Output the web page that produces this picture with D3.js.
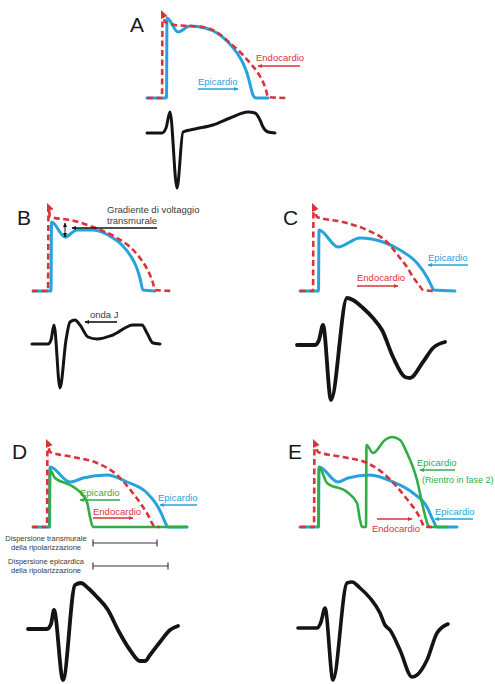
<!DOCTYPE html>
<html><head><meta charset="utf-8">
<script src="https://cdn.jsdelivr.net/npm/d3@7"></script>
<style>body{margin:0;background:#fff}svg{display:block}</style>
</head><body>
<svg id="c" width="495" height="684"></svg>
<script>
// ---- Data: action potentials [time, voltage] and ECG traces [time, amplitude] (relative units) ----
const apA_endo = [[0,0],[15,0],[15.5,84],[18,76],[28,73],[43,72],[56,71],[71,65],[83,55],[94,45],[103,35],[111,25],[116,16],[119,8],[121,1],[140,0]];
const apA_epi  = [[0,0],[19.5,0],[20,80],[31,66],[43,72],[58,70],[70,65],[81,56],[90,45],[96,35],[100,25],[103,14],[106,3],[109,0],[121,0]];
const ecgA     = [[0,0],[15,0],[19,5],[23,21],[30,-55],[36,1],[48,4],[66,8],[83,15],[101,21],[108,20],[113,13],[116,6],[121,1],[128,0]];

const apB_endo = [[0,0],[16,0],[16.5,84],[18,74],[38,71],[61,64],[85,53],[98,44],[108,33],[114,24],[118,16],[121,8],[123,1],[141,0]];
const apB_epi  = [[1,0],[19,0],[19.5,69],[33,54],[45,61],[61,61],[81,53],[90,46],[98,36],[104,25],[108,13],[111,1],[123,0]];
const ecgB     = [[0,0],[16,0],[19,4],[22,19],[28,-44],[34,4],[38,22],[43,24],[48,19],[56,7],[65,5],[81,9],[101,19],[110,19],[115,11],[121,1],[128,0]];

const apC_endo = [[0,0],[13,0],[13.5,84],[17,74],[43,69],[67,61],[87,49],[100,33],[107,24],[113,14],[119,6],[123,1],[135,0]];
const apC_epi  = [[0,0],[18.5,0],[19,61],[38,44],[60,53],[83,49],[100,41],[117,28],[127,14],[131,6],[134,1],[155,0]];
const ecgC     = [[0,0],[18,0],[22,5],[26,20],[34,-55],[50,47],[56,45],[66,37],[76,27],[85,15],[96,-12],[108,-32],[113,-33],[126,-17],[136,-3],[148,3]];

const apD_endo = [[0,0],[15,0],[15.5,84],[18,75],[41,70],[65,64],[85,52],[100,35],[111,20],[116,12],[120,4],[123,0],[128,0]];
const apD_epi  = [[1,0],[17.5,0],[18,60],[38,45],[51,49],[75,52],[95,45],[115,34],[126,20],[130,12],[133,5],[136,0],[155,0]];
const apD_epi2 = [[17.5,0],[18,57],[23,49],[38,42],[48,35],[55,25],[58,10],[61,0],[155,0]];
const ecgD     = [[0,0],[19,0],[23,5],[26,19],[35,-51],[47,44],[53,46],[60,41],[69,32],[80,19],[90,-1],[102,-21],[112,-32],[117,-32],[122,-26],[132,-13],[142,-1],[150,3]];

const apE_endo = [[0,0],[14,0],[14.5,84],[18,75],[43,70],[67,64],[83,54],[97,40],[110,24],[116,16],[120,9],[125,0],[132,0]];
const apE_epi  = [[0,0],[18.5,0],[19,60],[38,45],[48,49],[70,52],[93,45],[113,34],[127,20],[133,7],[137,0],[157,0]];
const apE_epi2 = [[18.5,0],[19,60],[27,44],[47,35],[57,24],[60,7],[62,0],[66,0],[66.5,82],[73,74],[85,87],[92,90],[100,87],[107,74],[117,47],[123,20],[128,2],[130,0],[147,0]];
const ecgE     = [[0,0],[19,0],[23,6],[27,20],[35,-52],[49,45],[54,46],[62,40],[72,30],[82,15],[87,3],[92,-2],[102,-22],[114,-49],[119,-47],[129,-32],[139,-5],[150,4]];

// Labels
const panelLetters = ["A","B","C","D","E"];
const txtEndo = "Endocardio", txtEpi = "Epicardio";
const txtGrad = ["Gradiente di voltaggio","transmurale"];
const txtJ = "onda J";
const txtDispT = ["Dispersione transmurale","della ripolarizzazione"];
const txtDispE = ["Dispersione epicardica","della ripolarizzazione"];
const txtReentry = "(Rientro in fase 2)";

// ---- Layout / style ----
const RED = "#d8343a", BLUE = "#27a3dc", GREEN = "#2fae47", BLACK = "#141414", GREY = "#3a3a3a";
const FONT = "Liberation Sans, Arial, sans-serif";

const layout = [
  {letter:[130,32], ap:[147,98], ecg:[147,133], ecgW:3,
   curves:[[apA_epi,BLUE,"s"],[apA_endo,RED,"d"]], ecgData:ecgA,
   ann:[{tx:txtEndo,t:109,v:37,c:RED},{ar:[153,32,111,32],c:RED},
        {tx:txtEpi,t:51,v:13,c:BLUE},{ar:[51,9,91,9],c:BLUE}]},
  {letter:[17,225], ap:[32,291], ecg:[32,344], ecgW:3,
   curves:[[apB_epi,BLUE,"s"],[apB_endo,RED,"d"]], ecgData:ecgB,
   ann:[{tx:txtGrad[0],t:75,v:78,c:GREY},{tx:txtGrad[1],t:75,v:67,c:GREY},
        {ar:[125,63,40,63],c:BLACK,w:1.6},{dbl:[33,68,33,54]}],
   ecgAnn:[{tx:txtJ,t:58,v:26,c:GREY},{ar:[85,22,53,22],c:BLACK,w:1.6}]},
  {letter:[283,225], ap:[300,291], ecg:[297,345], ecgW:3.8,
   curves:[[apC_epi,BLUE,"s"],[apC_endo,RED,"d"]], ecgData:ecgC,
   ann:[{tx:txtEpi,t:128,v:30,c:BLUE},{ar:[168,26,128,26],c:BLUE},
        {tx:txtEndo,t:57,v:10,c:RED},{ar:[57,5,98,5],c:RED}]},
  {letter:[12,459], ap:[32,527], ecg:[28,629], ecgW:3.8,
   curves:[[apD_epi,BLUE,"s"],[apD_epi2,GREEN,"s"],[apD_endo,RED,"d"]], ecgData:ecgD,
   ann:[{tx:txtEpi,t:48,v:31,c:GREEN},{ar:[88,27,48,27],c:GREEN},
        {tx:txtEndo,t:61,v:12,c:RED},{ar:[61,9,101,9],c:RED},
        {tx:txtEpi,t:126,v:26,c:BLUE},{ar:[165,22,128,22],c:BLUE},
        {tx:txtDispT[0],t:14,v:-14,c:GREY,s:7.5,mid:1},{tx:txtDispT[1],t:14,v:-23,c:GREY,s:7.5,mid:1},
        {tx:txtDispE[0],t:14,v:-37,c:GREY,s:7.5,mid:1},{tx:txtDispE[1],t:14,v:-46,c:GREY,s:7.5,mid:1},
        {bar:[61,125,-16]},{bar:[61,136,-39]}]},
  {letter:[288,459], ap:[300,527], ecg:[298,628], ecgW:3.6,
   curves:[[apE_epi,BLUE,"s"],[apE_epi2,GREEN,"s"],[apE_endo,RED,"d"]], ecgData:ecgE,
   ann:[{tx:txtEpi,t:117,v:61,c:GREEN},{ar:[155,57,120,57],c:GREEN},
        {tx:txtReentry,t:122,v:44,c:GREEN,s:9},
        {tx:txtEpi,t:135,v:12,c:BLUE},{ar:[173,8,135,8],c:BLUE},
        {tx:txtEndo,t:72,v:-5,c:RED},{ar:[77,8,112,8],c:RED}]}
];

const svg = d3.select("#c");
const defs = svg.append("defs");
function marker(id, color){
  defs.append("marker").attr("id",id).attr("viewBox","0 0 10 10").attr("refX",8).attr("refY",5)
    .attr("markerWidth",5).attr("markerHeight",5).attr("markerUnits","userSpaceOnUse").attr("orient","auto-start-reverse")
    .append("path").attr("d","M0,1 L9,5 L0,9 Z").attr("fill",color);
}
const colorIds = {};
[[RED,"mr"],[BLUE,"mb"],[GREEN,"mg"],[BLACK,"mk"],[GREY,"mgr"]].forEach(([c,id])=>{marker(id,c);colorIds[c]=id;});

layout.forEach((P,i)=>{
  const g = svg.append("g");
  const x = d3.scaleLinear().domain([0,100]).range([P.ap[0],P.ap[0]+100]);
  const y = d3.scaleLinear().domain([0,100]).range([P.ap[1],P.ap[1]-100]);
  const xe = d3.scaleLinear().domain([0,100]).range([P.ecg[0],P.ecg[0]+100]);
  const ye = d3.scaleLinear().domain([0,100]).range([P.ecg[1],P.ecg[1]-100]);
  const line = d3.line().x(d=>x(d[0])).y(d=>y(d[1])).curve(d3.curveMonotoneX);
  const lineE = d3.line().x(d=>xe(d[0])).y(d=>ye(d[1])).curve(d3.curveMonotoneX);

  g.append("text").attr("x",P.letter[0]).attr("y",P.letter[1]).text(panelLetters[i])
   .attr("font-family",FONT).attr("font-size",21).attr("fill","#1a1a1a");

  P.curves.forEach(([data,col,kind])=>{
    const p = g.append("path").attr("d",line(data)).attr("fill","none").attr("stroke",col)
      .attr("stroke-linejoin","round");
    if(kind==="d"){
      p.attr("stroke-width",2.6).attr("stroke-dasharray","6,3.5");
      // little flag at the top of the endocardial upstroke
      const top = data[2];
      g.append("path").attr("fill",col)
       .attr("d",`M${x(top[0])-1.5},${y(top[1])-4} L${x(top[0])-1.5},${y(top[1])+5} L${x(top[0])+5},${y(top[1])+2} Z`);
    } else {
      p.attr("stroke-width",col===BLUE?3:2.6).attr("stroke-linecap","round");
    }
  });

  g.append("path").attr("d",lineE(P.ecgData)).attr("fill","none").attr("stroke",BLACK)
   .attr("stroke-width",P.ecgW).attr("stroke-linejoin","round").attr("stroke-linecap","round");

  function drawAnn(list, sx, sy){
    (list||[]).forEach(a=>{
      if(a.tx){
        g.append("text").attr("x",sx(a.t)).attr("y",sy(a.v)).text(a.tx)
         .attr("font-family",FONT).attr("font-size",a.s||9.5).attr("fill",a.c)
         .attr("text-anchor",a.mid?"middle":"start");
      } else if(a.ar){
        g.append("line").attr("x1",sx(a.ar[0])).attr("y1",sy(a.ar[1])).attr("x2",sx(a.ar[2])).attr("y2",sy(a.ar[3]))
         .attr("stroke",a.c).attr("stroke-width",a.w||1.6).attr("marker-end",`url(#${colorIds[a.c]})`);
      } else if(a.dbl){
        g.append("line").attr("x1",sx(a.dbl[0])).attr("y1",sy(a.dbl[1])).attr("x2",sx(a.dbl[2])).attr("y2",sy(a.dbl[3]))
         .attr("stroke",BLACK).attr("stroke-width",1)
         .attr("marker-start",`url(#${colorIds[BLACK]})`).attr("marker-end",`url(#${colorIds[BLACK]})`);
      } else if(a.bar){
        const [t1,t2,v]=a.bar;
        g.append("line").attr("x1",sx(t1)).attr("x2",sx(t2)).attr("y1",sy(v)).attr("y2",sy(v)).attr("stroke",GREY).attr("stroke-width",1.2);
        [t1,t2].forEach(t=>g.append("line").attr("x1",sx(t)).attr("x2",sx(t)).attr("y1",sy(v)-3.5).attr("y2",sy(v)+3.5).attr("stroke",GREY).attr("stroke-width",1.2));
      }
    });
  }
  drawAnn(P.ann, x, y);
  drawAnn(P.ecgAnn, xe, ye);
});
</script>
</body></html>
